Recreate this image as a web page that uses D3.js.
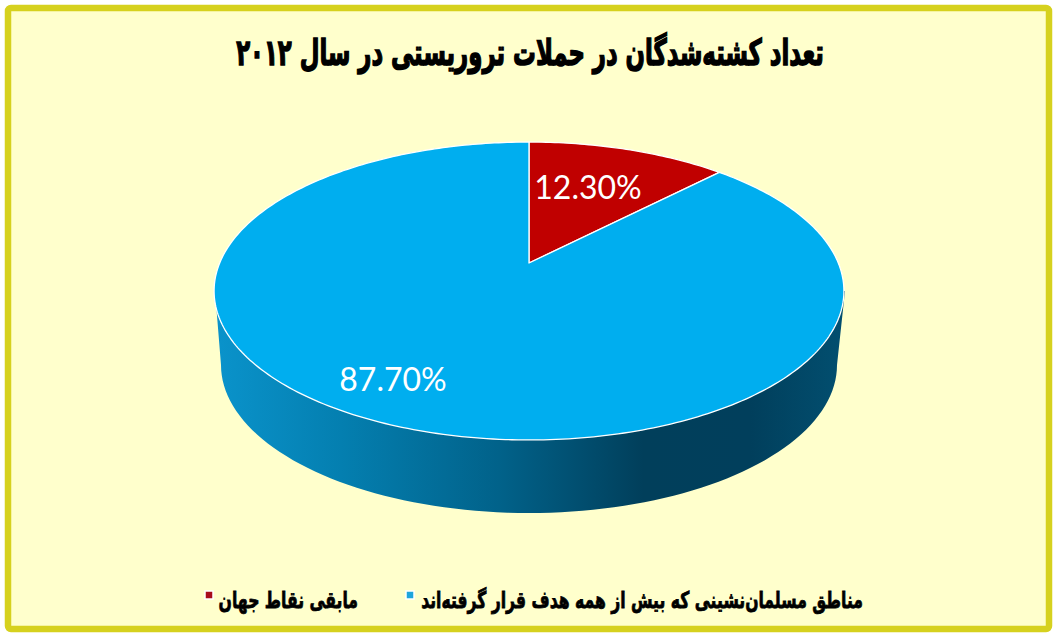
<!DOCTYPE html>
<html lang="fa"><head><meta charset="utf-8">
<script src="https://cdn.jsdelivr.net/npm/d3@7/dist/d3.min.js"></script>
<style>html,body{margin:0;padding:0;background:#fff;overflow:hidden}svg{display:block}</style>
</head><body><div id="c"></div>
<script>
const categories = ["مابقی نقاط جهان", "مناطق مسلمان‌نشینی که بیش از همه هدف قرار گرفته‌اند"];
const values = [12.3, 87.7];
const valueLabels = ["12.30%", "87.70%"];
const titleText = "تعداد کشته‌شدگان در حملات تروریستی در سال ۲۰۱۲";
const sliceColors = ["#c00000", "#00aeef"];

const W = 1057, H = 637;
const svg = d3.select("#c").append("svg").attr("width", W).attr("height", H);
const defs = svg.append("defs");
const grad = defs.append("linearGradient").attr("id", "wall").attr("gradientUnits", "userSpaceOnUse")
  .attr("x1", 215).attr("x2", 845).attr("y1", 0).attr("y2", 0);
[[0, "#0a93cb"], [.2, "#047fb0"], [.45, "#01628a"], [.68, "#013f5b"], [.85, "#013f5c"], [1, "#024f70"]]
  .forEach(s => grad.append("stop").attr("offset", s[0]).attr("stop-color", s[1]));

svg.append("rect").attr("x", 8).attr("y", 8).attr("width", 1041).attr("height", 621).attr("rx", 3)
  .attr("fill", "#ffffcc").attr("stroke", "#d6d11e").attr("stroke-width", 6.5);

// perspective projection of the disc: apex sits above the centre of the drawn ellipse
const apex = [529, 263], persp = -0.188, A = 143.7, D = 309.3;
function proj(theta, r = 1) {
  const u = r * Math.sin(theta), v = -r * Math.cos(theta), k = 1 + persp * v;
  return [apex[0] + D * u / k, apex[1] + A * v / k];
}
const line = d3.line();
const TAU = 2 * Math.PI;

// side wall
const wallCy = 365, wallRx = 308, wallRy = 148;
const lo = d3.range(0, 181, 2).map(d => {
  const a = d * Math.PI / 180;
  return [apex[0] - wallRx * Math.cos(a), wallCy + wallRy * Math.sin(a)];
});
const hull = [[215, 291], ...lo, [845, 291]];
svg.append("path").attr("d", line(hull) + "Z").attr("fill", "url(#wall)");

// top slices
const pie = d3.pie().sort(null).startAngle(0).endAngle(TAU)(values);
svg.append("g").selectAll("path").data(pie).join("path")
  .attr("d", d => {
    const n = Math.max(8, Math.ceil((d.endAngle - d.startAngle) * 60));
    const pts = d3.range(n + 1).map(i => proj(d.startAngle + (d.endAngle - d.startAngle) * i / n));
    return line([apex, ...pts]) + "Z";
  })
  .attr("fill", (d, i) => sliceColors[i])
  .attr("stroke", "#fff").attr("stroke-width", 1.3).attr("stroke-linejoin", "round");

// value labels
const labelPos = [[588, 186], [393, 378]];
svg.append("g").selectAll("text").data(valueLabels).join("text")
  .attr("x", (d, i) => labelPos[i][0]).attr("y", (d, i) => labelPos[i][1])
  .attr("text-anchor", "middle").attr("dominant-baseline", "central")
  .attr("font-family", "Lato, sans-serif").attr("font-size", 32).attr("fill", "#fff").text(d => d);

// title
svg.append("text").attr("text-anchor", "middle").attr("direction", "rtl")
  .attr("transform", "translate(530,65) scale(0.633,1)")
  .attr("font-family", "'DejaVu Sans', sans-serif").attr("font-weight", "bold").attr("font-size", 36)
  .attr("fill", "#000").attr("stroke", "#000").attr("stroke-width", 1.5).text(titleText);

// legend
const legend = [
  {i: 1, tx: 863, mx: 406},
  {i: 0, tx: 358, mx: 205}
];
const lg = svg.append("g").selectAll("g").data(legend).join("g");
lg.append("rect").attr("x", d => d.mx).attr("y", 591).attr("width", 8).attr("height", 8)
  .attr("fill", d => sliceColors[d.i] === "#c00000" ? "#a80c1c" : "#1fa5dc")
  .attr("stroke", "#fff").attr("stroke-width", 1.5);
lg.append("text").attr("transform", d => `translate(${d.tx},608) scale(0.68,1)`)
  .attr("text-anchor", "start").attr("direction", "rtl")
  .attr("font-family", "'DejaVu Sans', sans-serif").attr("font-weight", "bold").attr("font-size", 23)
  .attr("fill", "#000").attr("stroke", "#000").attr("stroke-width", .8).text(d => categories[d.i]);
</script></body></html>
